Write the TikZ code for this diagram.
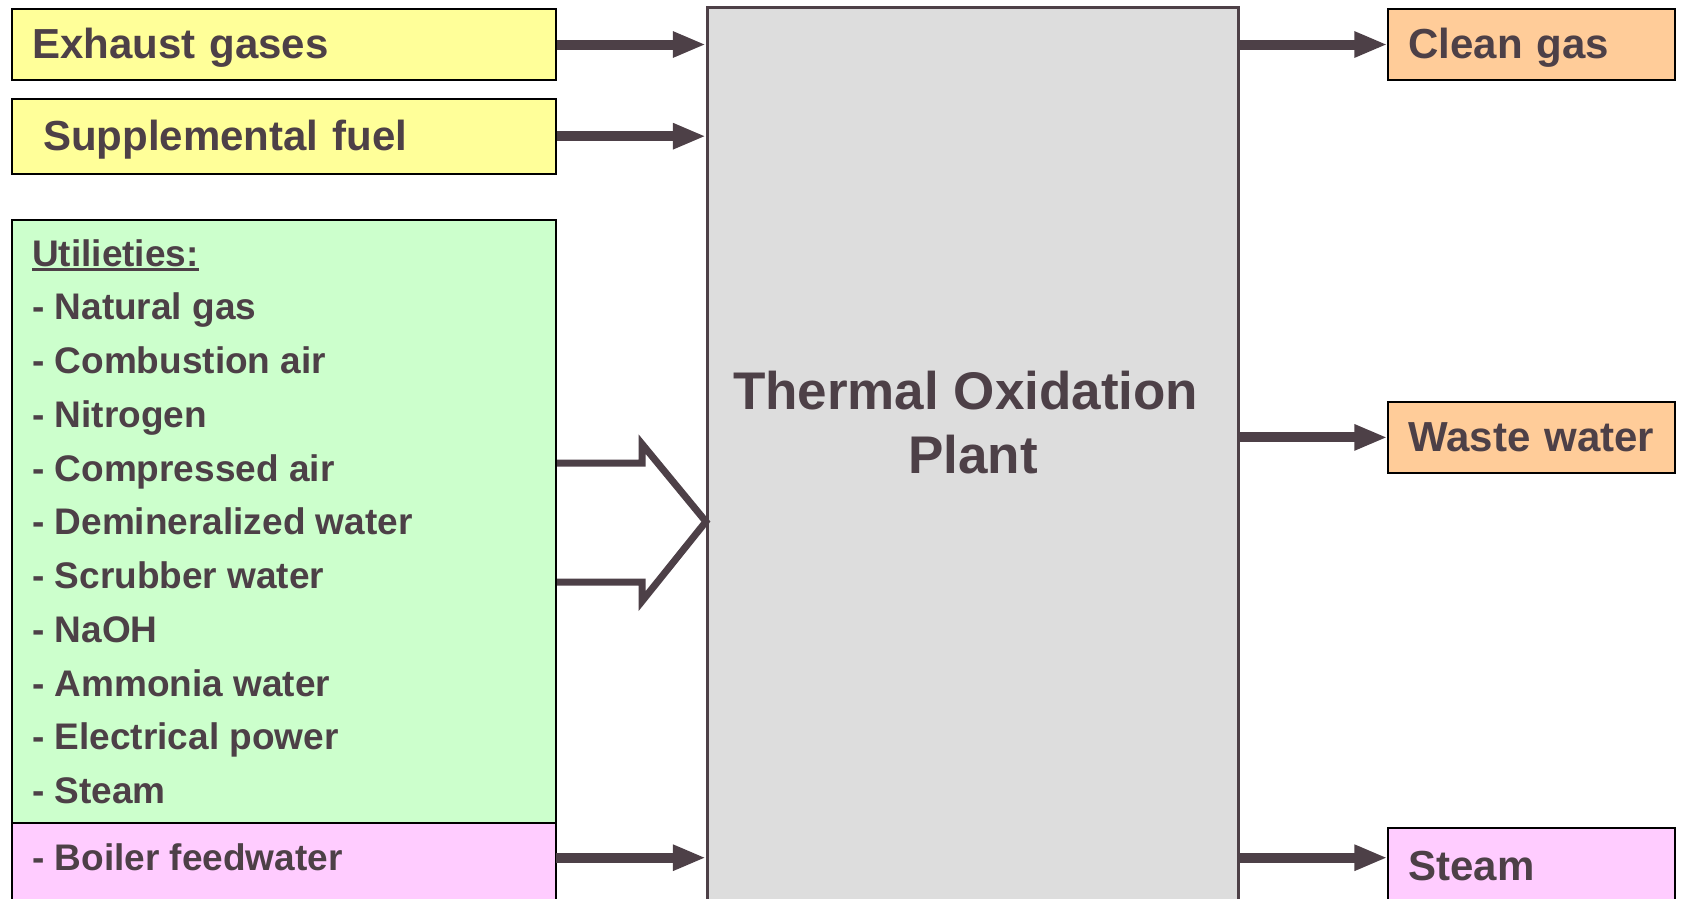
\documentclass[tikz,border=0pt]{standalone}
\usepackage{fontspec}
\setmainfont{Liberation Sans}
\usetikzlibrary{arrows.meta,
	calc,
	positioning}
\definecolor{ink}{RGB}{77,64,71}
\definecolor{feedyel}{RGB}{255,255,153}
\definecolor{utilgrn}{RGB}{204,255,204}
\definecolor{steampnk}{RGB}{255,204,255}
\definecolor{outorg}{RGB}{255,204,153}
\definecolor{plantgry}{RGB}{221,221,221}
\newcommand{\uln}[1]{\setbox0\hbox{#1}\rlap{\rule[-5pt]{\wd0}{2.6pt}}\box0}
\tikzstyle{box}=[draw=black, line width=2pt, inner xsep=20pt, inner ysep=0pt, align=left,
		text height=31pt, text depth=3pt, text=ink, font=\bfseries\fontsize{42}{50}\selectfont]
\tikzstyle{inbox}=[box, fill=feedyel, text width=504pt]
\tikzstyle{outbox}=[box, fill=outorg, text width=246.2pt]
\tikzstyle{listbox}=[draw=black, line width=2pt, minimum width=544pt, inner sep=0]
\tikzstyle{item}=[anchor=base west, inner sep=0pt, text=ink, font=\bfseries\fontsize{37}{44}\selectfont]
\tikzstyle{plantbox}=[draw=ink, fill=plantgry, line width=3.5pt, minimum width=530.7pt,
		minimum height=897.5pt, inner sep=0]
\tikzstyle{flow}=[draw=ink, line width=10pt, -{Triangle[length=33pt,width=24pt]}]
\tikzstyle{bigarrow}=[draw=ink, line width=7pt, line join=miter]

\begin{document}
\begin{tikzpicture}[x=1pt,y=-1pt]
	\path[use as bounding box, fill=white] (0,0) rectangle (1681,898);

	% central unit
	\node[plantbox] (plant) at (973,456.25) {};
	\node[text=ink, align=center, font=\bfseries\fontsize{53}{63.2}\selectfont] (plantlabel)
		at (973,422.5) {Thermal Oxidation\hbox to 14.7pt{}\\Plant};

	% feeds
	\node[inbox, minimum height=71.8pt] (exhaust) at (284,44.5) {Exhaust gases};
	\node[inbox, minimum height=75.1pt] (fuel) at (284,136.2) {\hspace{11pt}Supplemental fuel};
	\node[listbox, fill=utilgrn, minimum height=603.6pt] (util) at (284,521.6) {};
	\node[listbox, fill=steampnk, minimum height=81.6pt] (bfw) at (284,864.2) {};

	\node[item] (u0) at (32,266) {\uln{Utilieties:}};
	\foreach \txt [count=\i] in {- Natural gas, - Combustion air, - Nitrogen, - Compressed air,
			- Demineralized water, - Scrubber water, - NaOH, - Ammonia water,
			- Electrical power, - Steam}
		\node[item] (u\i) at (32,266+\i*53.75) {\txt};
	\node[item] (bfwtxt) at (32,870) {- Boiler feedwater};

	% products
	\node[outbox, minimum height=71.8pt] (cleangas) at (1531.5,44.5) {Clean gas};
	\node[outbox, minimum height=70.8pt] (wastewater) at (1531.5,437.4) {Waste water};
	\node[outbox, fill=steampnk, minimum height=77.3pt] (steamout) at (1531.5,866.35) {Steam};

	% streams
	\coordinate (lowlvl) at (556,857.7);
	\draw[flow] (exhaust.east) -- (exhaust.east -| plant.west);
	\draw[flow] (fuel.east) -- (fuel.east -| plant.west);
	\draw[flow] (lowlvl) -- (lowlvl -| plant.west);
	\draw[flow] (plant.east |- cleangas.west) -- (cleangas.west);
	\draw[flow] (plant.east |- wastewater.west) -- (wastewater.west);
	\draw[flow] (plant.east |- lowlvl) -- (steamout.west |- lowlvl);

	\draw[bigarrow] ($(util.east)+(0,-58.6)$) -- ++(85,0) -- ++(0,-19)
		-- (util.east -| plant.west) -- ($(util.east)+(85,79.6)$) -- ++(0,-19.2)
		-- ($(util.east)+(0,60.4)$);
\end{tikzpicture}
\end{document}
